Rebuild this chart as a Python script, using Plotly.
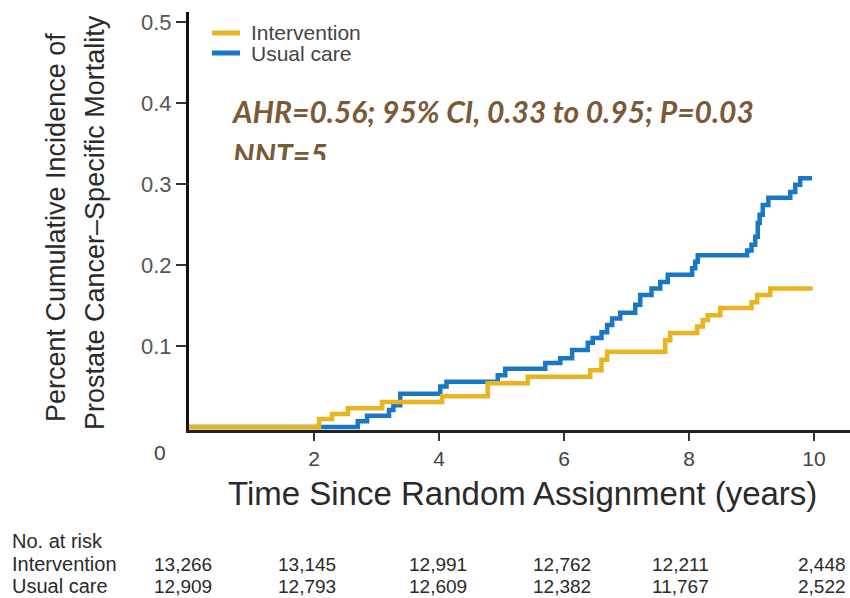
import plotly.graph_objects as go

# ---------------- data ----------------
intervention_t = [0, 2.08, 2.29, 2.54, 3.09, 4.05, 4.78, 5.42, 6.42, 6.60, 6.69, 7.62, 7.70,
                  8.13, 8.22, 8.30, 8.50, 9.00, 9.09, 9.30, 9.98]
intervention_y = [0, 0.010, 0.016, 0.023, 0.031, 0.038, 0.054, 0.062, 0.070, 0.083, 0.093, 0.107,
                  0.116, 0.124, 0.132, 0.138, 0.147, 0.154, 0.163, 0.171, 0.171]

usual_t = [0, 2.70, 2.85, 3.20, 3.27, 3.38, 4.02, 4.12, 4.94, 5.06, 5.70, 5.94, 6.13, 6.38, 6.46,
           6.60, 6.69, 6.77, 6.90, 7.14, 7.22, 7.40, 7.54, 7.66, 8.05, 8.10, 8.14, 8.93, 9.00,
           9.06, 9.10, 9.13, 9.18, 9.27, 9.62, 9.70, 9.78, 9.97]
usual_y = [0, 0.007, 0.014, 0.021, 0.027, 0.041, 0.050, 0.056, 0.064, 0.072, 0.079, 0.085, 0.095,
           0.104, 0.110, 0.117, 0.126, 0.134, 0.141, 0.151, 0.163, 0.171, 0.179, 0.188, 0.196,
           0.204, 0.212, 0.218, 0.225, 0.235, 0.252, 0.262, 0.274, 0.283, 0.290, 0.299, 0.307, 0.307]

x_ticks = [2, 4, 6, 8, 10]
y_ticks = [0.1, 0.2, 0.3, 0.4, 0.5]
y_tick_labels = ["0.1", "0.2", "0.3", "0.4", "0.5"]

series_names = ["Intervention", "Usual care"]
risk_intervention = ["13,266", "13,145", "12,991", "12,762", "12,211", "2,448"]
risk_usual = ["12,909", "12,793", "12,609", "12,382", "11,767", "2,522"]

stats_lines = ["AHR=0.56; 95% CI, 0.33 to 0.95; P=0.03", "NNT=5"]

YELLOW = "#E8B41F"
BLUE = "#1A76C6"
BROWN = "#7A5A36"
FONT = "Liberation Sans, Arial, sans-serif"

# ---------------- geometry (pixels) ----------------
W, H = 850, 598
L, R, T, B = 189, 0, 12, 168
PW, PH = W - L - R, H - T - B


def px(xp):
    return (xp - L) / PW


def py(yp):
    return (H - B - yp) / PH


fig = go.Figure()

fig.add_trace(go.Scatter(x=usual_t, y=usual_y, mode="lines", line_shape="hv",
                         line=dict(color=BLUE, width=4.5), name=series_names[1],
                         showlegend=False, hoverinfo="skip"))
fig.add_trace(go.Scatter(x=intervention_t, y=intervention_y, mode="lines", line_shape="hv",
                         line=dict(color=YELLOW, width=4.5), name=series_names[0],
                         showlegend=False, hoverinfo="skip"))

# statistics text, clipped at its bottom like the reference
clip_bottom = 160
fig.add_trace(go.Scatter(
    x=[(233 - L) / PW, (233 - L) / PW],
    y=[(clip_bottom - 115) / (clip_bottom - T), (clip_bottom - 158) / (clip_bottom - T)],
    mode="text", text=stats_lines, textposition="middle right",
    textfont=dict(family="Lato, sans-serif", size=30, color=BROWN, weight="bold", style="italic"),
    xaxis="x2", yaxis="y2", cliponaxis=True, showlegend=False, hoverinfo="skip"))

fig.update_layout(
    width=W, height=H,
    margin=dict(l=L, r=R, t=T, b=B),
    paper_bgcolor="white", plot_bgcolor="white",
    showlegend=False,
    xaxis=dict(range=[0, PW / 62.5], tickvals=x_ticks, ticktext=[str(v) for v in x_ticks],
               showgrid=False, zeroline=False, showline=True, linecolor="#222", linewidth=2.5,
               ticks="outside", ticklen=8, tickwidth=2, tickcolor="#333",
               tickfont=dict(family=FONT, size=21, color="#444")),
    yaxis=dict(range=[-3 / 810, (H - B - T - 3) / 810], tickvals=y_ticks, ticktext=y_tick_labels,
               showgrid=False, zeroline=False, showline=True, linecolor="#111", linewidth=3,
               ticks="outside", ticklen=10, tickwidth=2, tickcolor="#333",
               tickfont=dict(family=FONT, size=22, color="#555")),
    xaxis2=dict(domain=[0, 1], range=[0, 1], visible=False, anchor="y2", fixedrange=True),
    yaxis2=dict(domain=[py(clip_bottom), 1], range=[0, 1], visible=False, anchor="x2",
                fixedrange=True),
)

ann = []
# "0" label at the left of the axis
ann.append(dict(x=px(160), y=py(452), xref="paper", yref="paper", text="0", showarrow=False,
                font=dict(family=FONT, size=21, color="#444"), xanchor="center", yanchor="middle"))
# x title
ann.append(dict(x=px(522), y=py(493), xref="paper", yref="paper",
                text="Time Since Random Assignment (years)", showarrow=False,
                font=dict(family=FONT, size=33, color="#2a2a2a"), xanchor="center", yanchor="middle"))
# y title (two lines)
ann.append(dict(x=px(56), y=py(228), xref="paper", yref="paper",
                text="Percent Cumulative Incidence of", textangle=-90, showarrow=False,
                font=dict(family=FONT, size=27, color="#2a2a2a"), xanchor="center", yanchor="middle"))
ann.append(dict(x=px(95), y=py(223), xref="paper", yref="paper",
                text="Prostate Cancer–Specific Mortality", textangle=-90, showarrow=False,
                font=dict(family=FONT, size=27, color="#2a2a2a"), xanchor="center", yanchor="middle"))

# legend (manual)
shapes = []
for i, (name, col) in enumerate(zip(series_names, [YELLOW, BLUE])):
    yy = 33 + 20 * i
    shapes.append(dict(type="line", xref="paper", yref="paper", x0=px(212), x1=px(240),
                       y0=py(yy), y1=py(yy), line=dict(color=col, width=5)))
    ann.append(dict(x=px(249), y=py(yy), xref="paper", yref="paper", text=name, showarrow=False,
                    font=dict(family=FONT, size=21, color="#444"), xanchor="left", yanchor="middle"))

# number-at-risk table
ann.append(dict(x=px(10), y=py(541), xref="paper", yref="paper", text="No. at risk",
                showarrow=False, font=dict(family=FONT, size=20, color="#2a2a2a"),
                xanchor="left", yanchor="middle"))
row_y = [564, 586]
for name, vals, yy in zip(series_names, [risk_intervention, risk_usual], row_y):
    ann.append(dict(x=px(10), y=py(yy), xref="paper", yref="paper", text=name, showarrow=False,
                    font=dict(family=FONT, size=20, color="#2a2a2a"), xanchor="left",
                    yanchor="middle"))
    for v, right_edge in zip(vals, [214, 338, 469, 593, 711, 848]):
        ann.append(dict(x=px(right_edge), y=py(yy), xref="paper", yref="paper", text=v,
                        showarrow=False, font=dict(family=FONT, size=19, color="#2a2a2a"),
                        xanchor="right", yanchor="middle"))

fig.update_layout(annotations=ann, shapes=shapes)
fig.write_html("out.html")
